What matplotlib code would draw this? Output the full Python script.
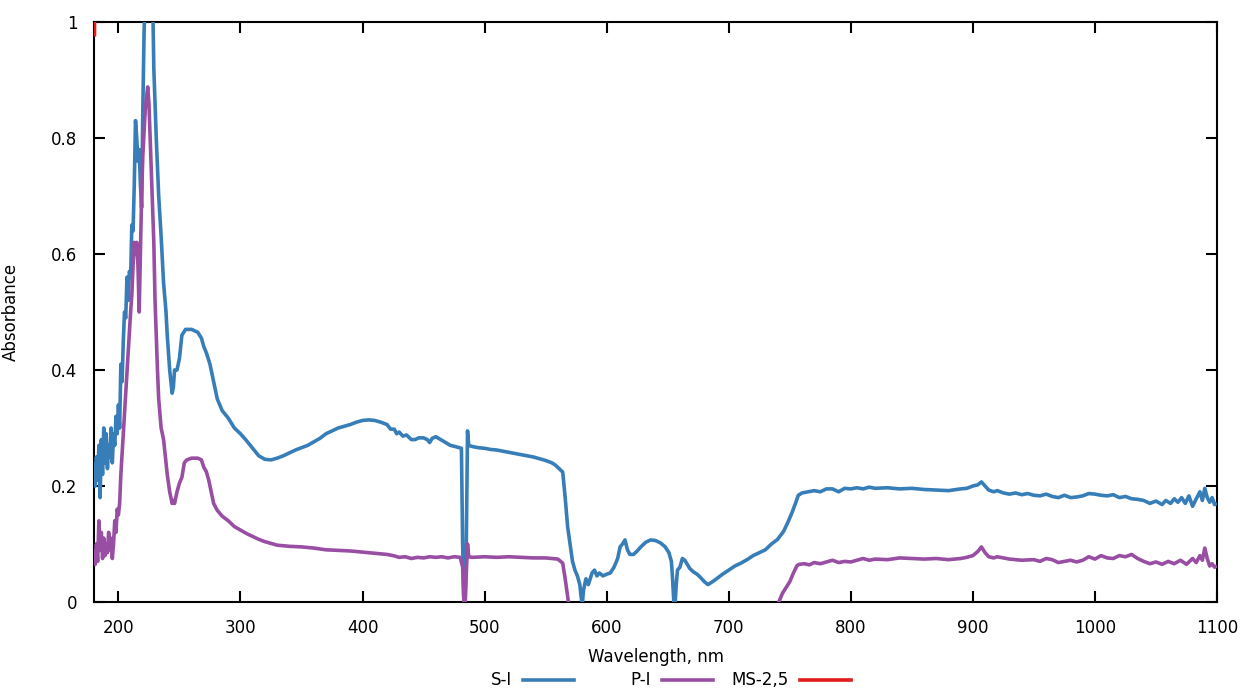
#!/usr/bin/env python3
import matplotlib
matplotlib.use("Agg")
import matplotlib.pyplot as plt
from matplotlib.lines import Line2D

# absorbance spectra, wavelength in nm
si_nm = [180, 181, 182, 183, 184, 185, 186, 187, 188, 189, 190, 191, 192, 193, 194,
         195, 196, 197, 198, 199, 200, 201, 202, 203, 204, 205, 206, 207, 208, 209,
         210, 211, 212, 213, 214, 215, 216, 217, 218, 219, 220, 221, 222, 225, 228,
         229, 231, 233, 235, 237, 239, 240, 242, 244, 245, 246, 248, 250, 252, 255,
         260, 265, 268, 270, 272, 275, 278, 281, 285, 290, 295, 300, 305, 310, 315,
         320, 325, 330, 335, 340, 345, 350, 355, 360, 365, 370, 375, 380, 385, 390,
         395, 400, 405, 410, 415, 420, 423, 426, 428, 430, 433, 436, 440, 443, 446,
         450, 453, 455, 457, 460, 464, 468, 472, 476, 481, 482, 483, 484, 485, 486,
         487, 490, 495, 500, 505, 510, 515, 520, 525, 530, 535, 540, 545, 550, 555,
         558, 561, 564, 566, 568, 570, 572, 574, 576, 578, 579, 580, 581, 583, 585,
         588, 590, 592, 594, 597, 600, 603, 606, 609, 611, 613, 615, 617, 619, 622,
         625, 628, 632, 636, 640, 644, 648, 651, 653, 654, 655, 656, 657, 658, 660,
         662, 664, 666, 668, 671, 674, 677, 680, 683, 686, 690, 695, 700, 705, 710,
         715, 720, 725, 730, 735, 740, 745, 749, 752, 755, 757, 760, 765, 770, 775,
         780, 785, 790, 795, 800, 805, 810, 815, 820, 830, 840, 850, 860, 870, 880,
         890, 895, 900, 904, 907, 910, 913, 917, 920, 925, 930, 935, 940, 945, 950,
         955, 960, 965, 970, 975, 980, 985, 990, 995, 1000, 1005, 1010, 1015, 1020, 1025,
         1030, 1035, 1040, 1045, 1050, 1055, 1058, 1062, 1065, 1068, 1071, 1074, 1077, 1080, 1083,
         1086, 1088, 1090, 1092, 1094, 1096, 1098, 1100]
si_abs = [0.24, 0.20, 0.25, 0.21, 0.27, 0.18, 0.28, 0.22, 0.30, 0.24, 0.29, 0.23, 0.27, 0.25, 0.30,
          0.24, 0.29, 0.27, 0.32, 0.29, 0.34, 0.30, 0.41, 0.38, 0.45, 0.50, 0.49, 0.56, 0.52, 0.57,
          0.56, 0.65, 0.64, 0.72, 0.83, 0.80, 0.76, 0.78, 0.72, 0.68, 0.85, 0.98, 1.05, 1.10, 1.05,
          0.92, 0.80, 0.70, 0.63, 0.55, 0.50, 0.46, 0.40, 0.36, 0.37, 0.40, 0.40, 0.42, 0.46, 0.47,
          0.47, 0.465, 0.455, 0.44, 0.43, 0.41, 0.38, 0.35, 0.33, 0.317, 0.30, 0.29, 0.278, 0.265, 0.252,
          0.246, 0.245, 0.248, 0.252, 0.257, 0.262, 0.266, 0.27, 0.276, 0.282, 0.29, 0.295, 0.30, 0.303, 0.306,
          0.31, 0.313, 0.314, 0.313, 0.31, 0.306, 0.298, 0.298, 0.29, 0.293, 0.286, 0.288, 0.28, 0.28, 0.283,
          0.283, 0.28, 0.275, 0.282, 0.285, 0.28, 0.275, 0.27, 0.268, 0.265, 0.10, 0.0, 0.0, 0.10, 0.295,
          0.27, 0.268, 0.266, 0.265, 0.263, 0.262, 0.26, 0.258, 0.256, 0.254, 0.252, 0.25, 0.247, 0.244, 0.24,
          0.236, 0.23, 0.224, 0.18, 0.13, 0.10, 0.07, 0.055, 0.045, 0.03, 0.01, -0.005, 0.02, 0.04, 0.03,
          0.05, 0.055, 0.045, 0.05, 0.045, 0.048, 0.05, 0.06, 0.075, 0.095, 0.10, 0.107, 0.09, 0.082, 0.082,
          0.088, 0.095, 0.103, 0.107, 0.106, 0.102, 0.095, 0.085, 0.07, 0.04, 0.0, -0.005, 0.03, 0.055, 0.06,
          0.075, 0.072, 0.065, 0.058, 0.052, 0.048, 0.042, 0.035, 0.03, 0.034, 0.04, 0.048, 0.055, 0.062, 0.067,
          0.073, 0.08, 0.085, 0.09, 0.10, 0.108, 0.122, 0.14, 0.155, 0.172, 0.184, 0.188, 0.19, 0.192, 0.19,
          0.195, 0.195, 0.19, 0.196, 0.195, 0.197, 0.195, 0.198, 0.196, 0.197, 0.195, 0.196, 0.194, 0.193, 0.192,
          0.195, 0.196, 0.20, 0.202, 0.207, 0.20, 0.193, 0.19, 0.192, 0.188, 0.186, 0.188, 0.185, 0.187, 0.184,
          0.183, 0.186, 0.182, 0.18, 0.184, 0.18, 0.181, 0.183, 0.187, 0.186, 0.184, 0.183, 0.185, 0.18, 0.182,
          0.178, 0.177, 0.175, 0.17, 0.174, 0.168, 0.175, 0.17, 0.178, 0.172, 0.18, 0.17, 0.183, 0.165, 0.178,
          0.19, 0.175, 0.196, 0.18, 0.172, 0.18, 0.168, 0.17]

pi_nm = [180, 181, 182, 183, 184, 185, 186, 187, 188, 189, 190, 191, 192, 193, 194,
         195, 196, 197, 198, 199, 200, 201, 202, 204, 206, 208, 210, 211, 212, 213,
         214, 215, 216, 217, 218, 219, 220, 222, 224, 225, 226, 227, 229, 230, 232,
         233, 235, 237, 240, 242, 244, 245, 246, 248, 250, 252, 254, 256, 260, 265,
         268, 270, 272, 274, 276, 278, 281, 285, 290, 295, 300, 305, 310, 315, 320,
         325, 330, 340, 350, 360, 370, 380, 390, 400, 410, 420, 425, 430, 435, 440,
         445, 450, 455, 460, 465, 470, 475, 480, 482, 483, 484, 485, 486, 487, 490,
         500, 510, 520, 530, 540, 550, 555, 560, 564, 566, 568, 572, 738, 741, 744,
         747, 750, 753, 756, 758, 762, 766, 770, 775, 780, 785, 790, 795, 800, 805,
         810, 815, 820, 830, 840, 850, 860, 870, 880, 890, 895, 900, 904, 907, 910,
         913, 917, 920, 930, 940, 950, 955, 960, 965, 970, 975, 980, 985, 990, 995,
         1000, 1005, 1010, 1015, 1020, 1025, 1030, 1035, 1040, 1045, 1050, 1055, 1060, 1065, 1070,
         1075, 1080, 1083, 1086, 1088, 1090, 1092, 1094, 1096, 1098, 1100]
pi_abs = [0.09, 0.065, 0.10, 0.07, 0.14, 0.09, 0.12, 0.075, 0.11, 0.08, 0.10, 0.085, 0.12, 0.09, 0.11,
          0.075, 0.10, 0.14, 0.12, 0.16, 0.15, 0.17, 0.22, 0.29, 0.36, 0.43, 0.50, 0.53, 0.58, 0.62,
          0.60, 0.62, 0.58, 0.50, 0.60, 0.70, 0.77, 0.85, 0.888, 0.86, 0.80, 0.745, 0.62, 0.52, 0.40,
          0.35, 0.30, 0.28, 0.22, 0.19, 0.17, 0.175, 0.17, 0.19, 0.205, 0.215, 0.24, 0.245, 0.248, 0.248,
          0.245, 0.232, 0.225, 0.21, 0.19, 0.17, 0.158, 0.148, 0.14, 0.13, 0.124, 0.118, 0.113, 0.108, 0.104,
          0.101, 0.098, 0.096, 0.095, 0.093, 0.09, 0.089, 0.088, 0.086, 0.084, 0.082, 0.08, 0.077, 0.078, 0.075,
          0.077, 0.076, 0.078, 0.077, 0.078, 0.076, 0.078, 0.077, 0.06, 0.0, -0.01, 0.05, 0.10, 0.078, 0.077,
          0.078, 0.077, 0.078, 0.077, 0.076, 0.076, 0.075, 0.074, 0.067, 0.04, 0.01, -0.05, -0.05, 0.0, 0.015,
          0.025, 0.035, 0.05, 0.063, 0.065, 0.066, 0.064, 0.068, 0.066, 0.069, 0.072, 0.068, 0.07, 0.069, 0.072,
          0.075, 0.072, 0.074, 0.073, 0.076, 0.075, 0.074, 0.075, 0.073, 0.075, 0.077, 0.08, 0.087, 0.095, 0.085,
          0.078, 0.076, 0.078, 0.074, 0.072, 0.073, 0.07, 0.075, 0.073, 0.068, 0.07, 0.072, 0.069, 0.072, 0.078,
          0.074, 0.08, 0.076, 0.075, 0.08, 0.078, 0.082, 0.075, 0.07, 0.066, 0.069, 0.065, 0.07, 0.066, 0.072,
          0.065, 0.075, 0.068, 0.08, 0.072, 0.093, 0.075, 0.062, 0.066, 0.06, 0.062]

ms_nm = [180.4, 180.6, 181]
ms_abs = [0.975, 2.0, 4.0]

labels = ["S-I", "P-I", "MS-2,5"]
colors = ["#377eb8", "#984ea3", "#e41a1c"]

plt.rcParams["font.family"] = "DejaVu Sans"
plt.rcParams["font.size"] = 12

fig = plt.figure(figsize=(12.43, 6.88), dpi=100)
ax = fig.add_axes([94 / 1243, 86 / 688, 1123 / 1243, 580 / 688])

series = [(si_nm, si_abs), (pi_nm, pi_abs), (ms_nm, ms_abs)]
for (x, y), c in zip(series, colors):
    ax.plot(x, y, color=c, lw=2.6, solid_joinstyle="round", solid_capstyle="butt",
            zorder=3)

ax.set_xlim(180, 1100)
ax.set_ylim(0, 1)
ax.set_xticks(range(200, 1101, 100))
ax.set_yticks([0, 0.2, 0.4, 0.6, 0.8, 1])
ax.set_yticklabels(["0", "0.2", "0.4", "0.6", "0.8", "1"])
ax.tick_params(direction="in", length=8, width=1.5, top=True, right=True)
ax.tick_params(axis="x", pad=12)
ax.tick_params(axis="y", pad=12)
for s in ax.spines.values():
    s.set_linewidth(1.5)
    s.set_zorder(2.5)

ax.set_xlabel("Wavelength, nm", labelpad=8)
ax.set_ylabel("Absorbance")
ax.yaxis.set_label_coords(-(94 - 20) / 1123, 0.5)

# gnuplot-style key below the plot: label, then line sample
key_y = 1 - 680 / 688
for i, (lab, c) in enumerate(zip(labels, colors)):
    x0 = (523 + i * 138.5) / 1243
    x1 = x0 + 51 / 1243
    fig.add_artist(Line2D([x0, x1], [key_y, key_y], color=c, lw=2.6,
                          transform=fig.transFigure))
    fig.text(x0 - 11 / 1243, key_y, lab, ha="right", va="center")

fig.savefig("out.png", dpi=100)
